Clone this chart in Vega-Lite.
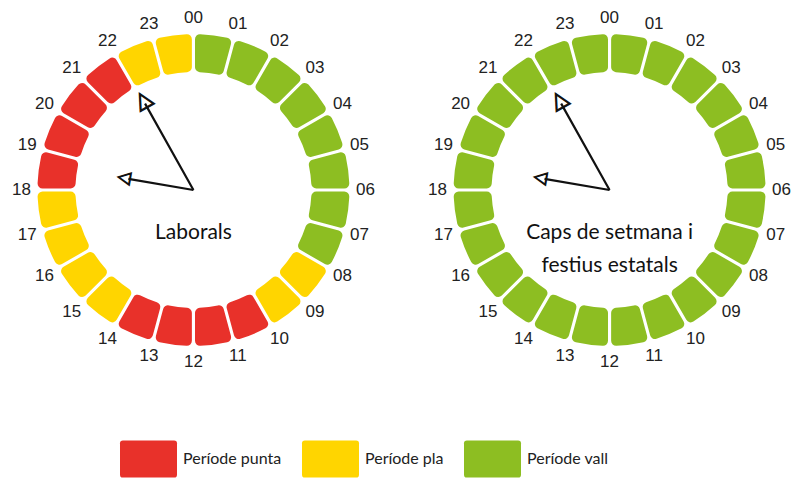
{
  "$schema": "https://vega.github.io/schema/vega-lite/v6.json",
  "autosize": {"type": "none"},
  "width": 779,
  "height": 380,
  "padding": {"left": 12, "top": 0, "right": 0, "bottom": 98},
  "background": "white",
  "config": {"view": {"stroke": null}, "font": "Lato"},
  "datasets": {
    "segments": [
      {"clock": "Laborals", "h0": 0, "h1": 1, "period": "Període vall"},
      {"clock": "Laborals", "h0": 1, "h1": 2, "period": "Període vall"},
      {"clock": "Laborals", "h0": 2, "h1": 3, "period": "Període vall"},
      {"clock": "Laborals", "h0": 3, "h1": 4, "period": "Període vall"},
      {"clock": "Laborals", "h0": 4, "h1": 5, "period": "Període vall"},
      {"clock": "Laborals", "h0": 5, "h1": 6, "period": "Període vall"},
      {"clock": "Laborals", "h0": 6, "h1": 7, "period": "Període vall"},
      {"clock": "Laborals", "h0": 7, "h1": 8, "period": "Període vall"},
      {"clock": "Laborals", "h0": 8, "h1": 9, "period": "Període pla"},
      {"clock": "Laborals", "h0": 9, "h1": 10, "period": "Període pla"},
      {"clock": "Laborals", "h0": 10, "h1": 11, "period": "Període punta"},
      {"clock": "Laborals", "h0": 11, "h1": 12, "period": "Període punta"},
      {"clock": "Laborals", "h0": 12, "h1": 13, "period": "Període punta"},
      {"clock": "Laborals", "h0": 13, "h1": 14, "period": "Període punta"},
      {"clock": "Laborals", "h0": 14, "h1": 15, "period": "Període pla"},
      {"clock": "Laborals", "h0": 15, "h1": 16, "period": "Període pla"},
      {"clock": "Laborals", "h0": 16, "h1": 17, "period": "Període pla"},
      {"clock": "Laborals", "h0": 17, "h1": 18, "period": "Període pla"},
      {"clock": "Laborals", "h0": 18, "h1": 19, "period": "Període punta"},
      {"clock": "Laborals", "h0": 19, "h1": 20, "period": "Període punta"},
      {"clock": "Laborals", "h0": 20, "h1": 21, "period": "Període punta"},
      {"clock": "Laborals", "h0": 21, "h1": 22, "period": "Període punta"},
      {"clock": "Laborals", "h0": 22, "h1": 23, "period": "Període pla"},
      {"clock": "Laborals", "h0": 23, "h1": 24, "period": "Període pla"},
      {"clock": "Caps de setmana i festius estatals", "h0": 0, "h1": 1, "period": "Període vall"},
      {"clock": "Caps de setmana i festius estatals", "h0": 1, "h1": 2, "period": "Període vall"},
      {"clock": "Caps de setmana i festius estatals", "h0": 2, "h1": 3, "period": "Període vall"},
      {"clock": "Caps de setmana i festius estatals", "h0": 3, "h1": 4, "period": "Període vall"},
      {"clock": "Caps de setmana i festius estatals", "h0": 4, "h1": 5, "period": "Període vall"},
      {"clock": "Caps de setmana i festius estatals", "h0": 5, "h1": 6, "period": "Període vall"},
      {"clock": "Caps de setmana i festius estatals", "h0": 6, "h1": 7, "period": "Període vall"},
      {"clock": "Caps de setmana i festius estatals", "h0": 7, "h1": 8, "period": "Període vall"},
      {"clock": "Caps de setmana i festius estatals", "h0": 8, "h1": 9, "period": "Període vall"},
      {"clock": "Caps de setmana i festius estatals", "h0": 9, "h1": 10, "period": "Període vall"},
      {"clock": "Caps de setmana i festius estatals", "h0": 10, "h1": 11, "period": "Període vall"},
      {"clock": "Caps de setmana i festius estatals", "h0": 11, "h1": 12, "period": "Període vall"},
      {"clock": "Caps de setmana i festius estatals", "h0": 12, "h1": 13, "period": "Període vall"},
      {"clock": "Caps de setmana i festius estatals", "h0": 13, "h1": 14, "period": "Període vall"},
      {"clock": "Caps de setmana i festius estatals", "h0": 14, "h1": 15, "period": "Període vall"},
      {"clock": "Caps de setmana i festius estatals", "h0": 15, "h1": 16, "period": "Període vall"},
      {"clock": "Caps de setmana i festius estatals", "h0": 16, "h1": 17, "period": "Període vall"},
      {"clock": "Caps de setmana i festius estatals", "h0": 17, "h1": 18, "period": "Període vall"},
      {"clock": "Caps de setmana i festius estatals", "h0": 18, "h1": 19, "period": "Període vall"},
      {"clock": "Caps de setmana i festius estatals", "h0": 19, "h1": 20, "period": "Període vall"},
      {"clock": "Caps de setmana i festius estatals", "h0": 20, "h1": 21, "period": "Període vall"},
      {"clock": "Caps de setmana i festius estatals", "h0": 21, "h1": 22, "period": "Període vall"},
      {"clock": "Caps de setmana i festius estatals", "h0": 22, "h1": 23, "period": "Període vall"},
      {"clock": "Caps de setmana i festius estatals", "h0": 23, "h1": 24, "period": "Període vall"}
    ],
    "titles": [
      {"clock": "Laborals", "title": "Laborals"},
      {"clock": "Caps de setmana i festius estatals", "title": "Caps de setmana i\nfestius estatals"}
    ],
    "hands": [
      {"clock": "Laborals", "hand": "llarga", "hour": 22.05},
      {"clock": "Laborals", "hand": "curta", "hour": 18.65},
      {"clock": "Caps de setmana i festius estatals", "hand": "llarga", "hour": 22.05},
      {"clock": "Caps de setmana i festius estatals", "hand": "curta", "hour": 18.65}
    ]
  },
  "layer": [
    {
      "data": {"name": "segments"},
      "mark": {"type": "arc", "radius": 156, "radius2": 118, "padAngle": 0.016, "cornerRadius": 5},
      "encoding": {
        "x": {"field": "clock", "type": "nominal", "scale": {"type": "point", "domain": ["Laborals", "Caps de setmana i festius estatals"], "padding": 0.436}, "axis": null},
        "theta": {"field": "h0", "type": "quantitative", "stack": null, "scale": {"domain": [0, 24], "range": [0, 6.283185307179586]}},
        "theta2": {"field": "h1"},
        "color": {
          "field": "period", "type": "nominal",
          "scale": {"domain": ["Període punta", "Període pla", "Període vall"], "range": ["#E8312A", "#FFD500", "#8DBE22"]},
          "legend": {
            "orient": "none", "legendX": 108, "legendY": 430, "direction": "horizontal", "title": null,
            "symbolType": "M-0.9,-0.65 L0.9,-0.65 Q1,-0.65 1,-0.55 L1,0.55 Q1,0.65 0.9,0.65 L-0.9,0.65 Q-1,0.65 -1,0.55 L-1,-0.55 Q-1,-0.65 -0.9,-0.65 Z",
            "symbolSize": 3249, "symbolStrokeWidth": 0, "symbolOpacity": 1,
            "labelFontSize": 16, "labelFont": "Lato", "labelColor": "#222", "labelOffset": 6, "columnPadding": 20
          }
        }
      }
    },
    {
      "data": {"name": "segments"},
      "mark": {"type": "text", "radius": 172, "fontSize": 17, "font": "Liberation Sans", "color": "#222", "align": "center", "baseline": "middle"},
      "encoding": {
        "x": {"field": "clock", "type": "nominal", "scale": {"type": "point", "domain": ["Laborals", "Caps de setmana i festius estatals"], "padding": 0.436}, "axis": null},
        "theta": {"field": "h0", "type": "quantitative", "stack": null, "scale": {"domain": [0, 24], "range": [0, 6.283185307179586]}},
        "text": {"field": "h0", "type": "quantitative", "format": "02d"}
      }
    },
    {
      "data": {"name": "titles"},
      "mark": {"type": "text", "radius": 32, "fontSize": 21, "font": "Lato", "color": "#111", "align": "center", "baseline": "top", "lineBreak": "\n", "lineHeight": 33},
      "encoding": {
        "x": {"field": "clock", "type": "nominal", "scale": {"type": "point", "domain": ["Laborals", "Caps de setmana i festius estatals"], "padding": 0.436}, "axis": null},
        "theta": {"datum": 12, "type": "quantitative", "scale": {"domain": [0, 24], "range": [0, 6.283185307179586]}},
        "text": {"field": "title", "type": "nominal"}
      }
    },
    {
      "data": {"name": "hands"},
      "transform": [{"filter": "datum.hand == 'llarga'"}],
      "mark": {"type": "arc", "radius": 99, "radius2": 0, "filled": false, "stroke": "#111", "strokeWidth": 2.2},
      "encoding": {
        "x": {"field": "clock", "type": "nominal", "scale": {"type": "point", "domain": ["Laborals", "Caps de setmana i festius estatals"], "padding": 0.436}, "axis": null},
        "theta": {"field": "hour", "type": "quantitative", "stack": null, "scale": {"domain": [0, 24], "range": [0, 6.283185307179586]}},
        "theta2": {"field": "hour"}
      }
    },
    {
      "data": {"name": "hands"},
      "transform": [{"filter": "datum.hand == 'curta'"}],
      "mark": {"type": "arc", "radius": 66, "radius2": 0, "filled": false, "stroke": "#111", "strokeWidth": 2.2},
      "encoding": {
        "x": {"field": "clock", "type": "nominal", "scale": {"type": "point", "domain": ["Laborals", "Caps de setmana i festius estatals"], "padding": 0.436}, "axis": null},
        "theta": {"field": "hour", "type": "quantitative", "stack": null, "scale": {"domain": [0, 24], "range": [0, 6.283185307179586]}},
        "theta2": {"field": "hour"}
      }
    },
    {
      "data": {"name": "hands"},
      "transform": [{"filter": "datum.hand == 'llarga'"}],
      "mark": {"type": "text", "text": "△", "radius": 104, "fontSize": 22, "font": "DejaVu Sans", "color": "#111", "stroke": "#111", "strokeWidth": 1, "align": "center", "baseline": "middle"},
      "encoding": {
        "x": {"field": "clock", "type": "nominal", "scale": {"type": "point", "domain": ["Laborals", "Caps de setmana i festius estatals"], "padding": 0.436}, "axis": null},
        "theta": {"field": "hour", "type": "quantitative", "stack": null, "scale": {"domain": [0, 24], "range": [0, 6.283185307179586]}},
        "angle": {"field": "hour", "type": "quantitative", "scale": {"domain": [0, 24], "range": [0, 360]}}
      }
    },
    {
      "data": {"name": "hands"},
      "transform": [{"filter": "datum.hand == 'curta'"}],
      "mark": {"type": "text", "text": "△", "radius": 71, "fontSize": 17, "font": "DejaVu Sans", "color": "#111", "stroke": "#111", "strokeWidth": 1, "align": "center", "baseline": "middle"},
      "encoding": {
        "x": {"field": "clock", "type": "nominal", "scale": {"type": "point", "domain": ["Laborals", "Caps de setmana i festius estatals"], "padding": 0.436}, "axis": null},
        "theta": {"field": "hour", "type": "quantitative", "stack": null, "scale": {"domain": [0, 24], "range": [0, 6.283185307179586]}},
        "angle": {"field": "hour", "type": "quantitative", "scale": {"domain": [0, 24], "range": [0, 360]}}
      }
    }
  ]
}
